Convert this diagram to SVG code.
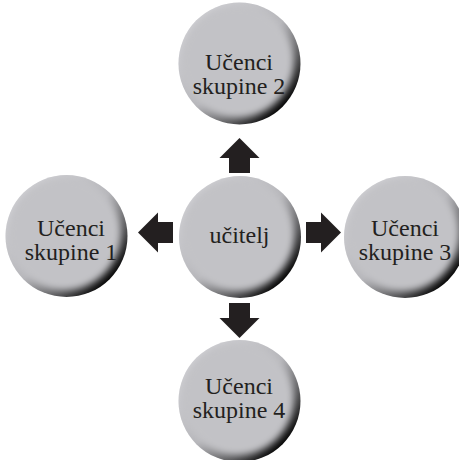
<svg xmlns="http://www.w3.org/2000/svg" xmlns:xlink="http://www.w3.org/1999/xlink" width="459" height="460" viewBox="0 0 459 460">
  <style>
    .lbl { font-family: "Liberation Serif", "DejaVu Serif", serif; font-size: 24px; fill: #231f20; text-anchor: middle; }
    .arrow { fill: #231f20; }
  </style>
  <defs>
    <!-- rim shading: light at top-left, dark at bottom-right -->
    <linearGradient id="rim" x1="0.15" y1="0.15" x2="0.85" y2="0.85">
      <stop offset="0" stop-color="#d2d2d6"/>
      <stop offset="0.5" stop-color="#b4b4b8"/>
      <stop offset="0.8" stop-color="#555557"/>
      <stop offset="1" stop-color="#0a0a0a"/>
    </linearGradient>
    <filter id="soft" x="-20%" y="-20%" width="140%" height="140%">
      <feGaussianBlur stdDeviation="3.5"/>
    </filter>
    <clipPath id="btnClip">
      <circle r="61"/>
    </clipPath>
    <!-- round button, centred on the origin -->
    <g id="btn">
      <circle r="61" fill="url(#rim)"/>
      <g clip-path="url(#btnClip)">
        <circle cx="-2.5" cy="-2.5" r="56.5" fill="#c2c2c6" filter="url(#soft)"/>
      </g>
    </g>
    <!-- block arrow pointing right, tail at the origin -->
    <path id="blockArrow" class="arrow" d="M0,-10.5 H15 V-20 L35,0 L15,20 V10.5 H0 Z"/>
  </defs>

  <g id="connectors">
    <use xlink:href="#blockArrow" transform="translate(239.5,173) rotate(-90)"/>
    <use xlink:href="#blockArrow" transform="translate(239.5,303) rotate(90)"/>
    <use xlink:href="#blockArrow" transform="translate(306,232.5)"/>
    <use xlink:href="#blockArrow" transform="translate(173,232.5) rotate(180)"/>
  </g>

  <g id="skupina2">
    <use xlink:href="#btn" transform="translate(239.5,63.5)"/>
    <text class="lbl" x="239" y="70">Učenci</text>
    <text class="lbl" x="239" y="94">skupine 2</text>
  </g>

  <g id="skupina1">
    <use xlink:href="#btn" transform="translate(66.5,236)"/>
    <text class="lbl" x="71" y="236">Učenci</text>
    <text class="lbl" x="71" y="260">skupine 1</text>
  </g>

  <g id="ucitelj">
    <use xlink:href="#btn" transform="translate(240,237)"/>
    <text class="lbl" x="239.5" y="243">učitelj</text>
  </g>

  <g id="skupina3">
    <use xlink:href="#btn" transform="translate(405,237)"/>
    <text class="lbl" x="405" y="236">Učenci</text>
    <text class="lbl" x="405" y="260">skupine 3</text>
  </g>

  <g id="skupina4">
    <use xlink:href="#btn" transform="translate(239.5,401)"/>
    <text class="lbl" x="239" y="394">Učenci</text>
    <text class="lbl" x="239" y="418">skupine 4</text>
  </g>
</svg>
